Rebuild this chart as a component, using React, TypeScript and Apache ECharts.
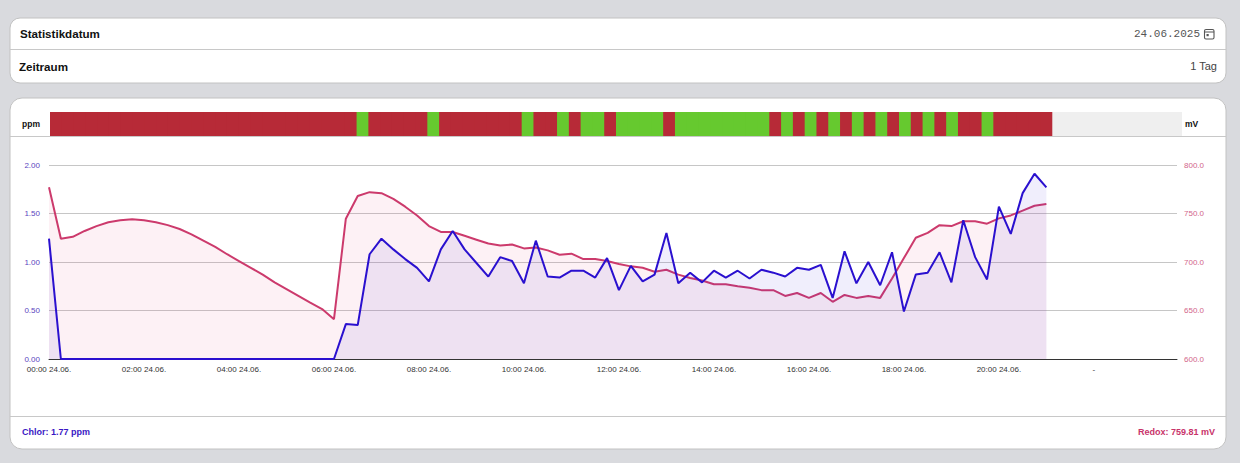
import React, { useEffect, useRef } from "react";
import * as echarts from "echarts";

// 15-minute slots of the day (category axis), only 00:00 .. 21:00 carry data
const slotCount = 96;
const categories: string[] = [];
for (let i = 0; i < slotCount; i++) {
  const h = Math.floor(i / 4);
  const m = (i % 4) * 15;
  categories.push(`${String(h).padStart(2, "0")}:${String(m).padStart(2, "0")}`);
}
const dateSuffix = "24.06.";

// Chlor in ppm (left axis)
const chlor = [
  1.24, 0, 0, 0, 0, 0, 0, 0, 0, 0, 0, 0, 0, 0, 0, 0, 0, 0, 0, 0, 0, 0, 0, 0, 0,
  0.36, 0.35, 1.08, 1.24, 1.13, 1.03, 0.94, 0.8, 1.13, 1.32, 1.13, 0.99, 0.85, 1.05, 1.01,
  0.78, 1.22, 0.85, 0.84, 0.91, 0.91, 0.84, 1.04, 0.71, 0.96, 0.8, 0.87, 1.3, 0.78, 0.89,
  0.79, 0.91, 0.84, 0.91, 0.83, 0.92, 0.89, 0.85, 0.94, 0.92, 0.97, 0.63, 1.11, 0.78, 1.0,
  0.76, 1.1, 0.49, 0.87, 0.89, 1.1, 0.79, 1.43, 1.05, 0.82, 1.57, 1.29, 1.71, 1.91, 1.77,
];

// Redox in mV (right axis)
const redox = [
  777, 724, 726, 732, 737, 741, 743, 744, 743, 741, 738, 734, 728.5, 722, 715.5, 708, 701,
  694, 687, 679, 672, 665, 658, 651.5, 641, 744.6, 768, 772, 771, 765, 757, 748, 737, 731,
  731, 727, 723, 719, 717, 718, 714, 715, 712, 707.5, 708.6, 703, 703, 701, 698, 695.5, 694,
  690, 692, 687, 683.5, 681, 677, 677, 675, 673.5, 671, 671, 665, 668, 663, 668, 659, 666,
  663, 665, 663, 683, 704, 725, 730, 738, 737, 742, 742, 739.5, 745, 748, 753, 758, 759.81,
];

// status per slot: 1 = ok (green), 0 = not ok (red)
const status = [
  0, 0, 0, 0, 0, 0, 0, 0, 0, 0, 0, 0, 0, 0, 0, 0, 0, 0, 0, 0, 0, 0, 0, 0, 0, 0,
  1, 0, 0, 0, 0, 0, 1, 0, 0, 0, 0, 0, 0, 0, 1, 0, 0, 1, 0, 1, 1, 0, 1, 1, 1, 1, 0,
  1, 1, 1, 1, 1, 1, 1, 1, 0, 1, 0, 1, 0, 1, 0, 1, 0, 1, 0, 1, 0, 1, 0, 1, 0, 0, 1,
  0, 0, 0, 0, 0,
];

const leftTicks = { min: 0, max: 2, interval: 0.5 };
const rightTicks = { min: 600, max: 800, interval: 50 };

const statDate = "24.06.2025";
const period = "1 Tag";
const chlorNow = "1.77";
const redoxNow = "759.81";

const BLUE = "#2A10CF";
const PINK = "#CC3A6C";
const RED = "#B72A37";
const GREEN = "#66C92F";
const FONT = "'Liberation Sans', Arial, sans-serif";

export default function App() {
  const ref = useRef<HTMLDivElement>(null);

  useEffect(() => {
    if (!ref.current) return;
    const chart = echarts.init(ref.current, undefined, { renderer: "svg" });

    const cardStroke = "#C2C2C2";
    const lastSlot = status.length - 1;
    const option: any = {
      animation: false,
      backgroundColor: "#D9DADE",
      textStyle: { fontFamily: FONT },
      grid: [
        { left: 50, top: 112, width: 1132, height: 24, show: true, backgroundColor: "#EFEFEF", borderWidth: 0, z: 1 },
        { left: 49, top: 165, width: 1128, height: 194 },
      ],
      xAxis: [
        { type: "category", gridIndex: 0, data: categories, show: false, boundaryGap: true },
        {
          type: "category",
          gridIndex: 1,
          data: categories,
          boundaryGap: false,
          axisLine: { lineStyle: { color: "#333", width: 1 } },
          axisTick: { show: false },
          axisLabel: {
            interval: 7,
            fontSize: 8,
            color: "#333",
            margin: 6,
            fontFamily: FONT,
            formatter: (v: string, idx: number) => (idx < chlor.length ? `${v} ${dateSuffix}` : "-"),
          },
        },
      ],
      yAxis: [
        { type: "value", gridIndex: 0, min: 0, max: 1, show: false },
        {
          type: "value",
          gridIndex: 1,
          position: "left",
          ...leftTicks,
          axisLine: { show: false },
          axisTick: { show: false },
          axisLabel: { fontSize: 8, color: "#5A44C0", margin: 9, fontFamily: FONT, formatter: (v: number) => v.toFixed(2) },
          splitLine: { lineStyle: { color: "#C6C6C6" } },
        },
        {
          type: "value",
          gridIndex: 1,
          position: "right",
          ...rightTicks,
          axisLine: { show: false },
          axisTick: { show: false },
          axisLabel: { fontSize: 8, color: "#D2658A", margin: 7, fontFamily: FONT, formatter: (v: number) => v.toFixed(1) },
          splitLine: { show: false },
        },
      ],
      series: [
        {
          type: "custom",
          xAxisIndex: 0,
          yAxisIndex: 0,
          silent: true,
          data: status.map((s, i) => [i, s]),
          encode: { x: 0, y: 1 },
          renderItem: (params: any, api: any) => {
            const idx = api.value(0);
            const ok = api.value(1);
            const center = api.coord([idx, 1]);
            const base = api.coord([idx, 0]);
            const size = api.size([1, 1]);
            const extra = idx === lastSlot ? 0 : 0.9;
            return {
              type: "rect",
              shape: {
                x: center[0] - size[0] / 2,
                y: center[1],
                width: size[0] + extra,
                height: base[1] - center[1],
              },
              style: { fill: ok ? GREEN : RED },
            };
          },
        },
        {
          name: "Redox",
          type: "line",
          xAxisIndex: 1,
          yAxisIndex: 2,
          data: redox,
          showSymbol: false,
          lineStyle: { color: PINK, width: 2 },
          itemStyle: { color: PINK },
          areaStyle: { color: "rgba(225,60,120,0.10)" },
          z: 2,
        },
        {
          name: "Chlor",
          type: "line",
          xAxisIndex: 1,
          yAxisIndex: 1,
          data: chlor,
          showSymbol: false,
          lineStyle: { color: BLUE, width: 2 },
          itemStyle: { color: BLUE },
          areaStyle: { color: "rgba(70,40,215,0.11)" },
          z: 3,
        },
      ],
      graphic: [
        // top card
        { type: "rect", z: -10, shape: { x: 10, y: 18, width: 1216, height: 65, r: 10 }, style: { fill: "#fff", stroke: cardStroke, lineWidth: 1 } },
        { type: "line", z: -9, shape: { x1: 10, y1: 49.5, x2: 1226, y2: 49.5 }, style: { stroke: "#C8C8C8", lineWidth: 1 } },
        { type: "text", z: 10, x: 20, y: 33, style: { text: "Statistikdatum", fontSize: 11.6, fontWeight: "bold", fill: "#111", fontFamily: FONT, verticalAlign: "middle" } },
        { type: "text", z: 10, x: 19, y: 66, style: { text: "Zeitraum", fontSize: 11.6, fontWeight: "bold", fill: "#111", fontFamily: FONT, verticalAlign: "middle" } },
        { type: "text", z: 10, x: 1200, y: 34, style: { text: statDate, fontSize: 11, fill: "#555", fontFamily: "'Liberation Mono', 'DejaVu Sans Mono', monospace", align: "right", verticalAlign: "middle" } },
        { type: "rect", z: 10, shape: { x: 1204.5, y: 29.5, width: 9.5, height: 9.5, r: 1.5 }, style: { fill: "none", stroke: "#555", lineWidth: 1.1 } },
        { type: "line", z: 10, shape: { x1: 1204.5, y1: 32, x2: 1214, y2: 32 }, style: { stroke: "#555", lineWidth: 1 } },
        { type: "rect", z: 10, shape: { x: 1206.5, y: 34, width: 2.2, height: 2.2 }, style: { fill: "#555" } },
        { type: "text", z: 10, x: 1217, y: 66, style: { text: period, fontSize: 11, fill: "#444", fontFamily: FONT, align: "right", verticalAlign: "middle" } },
        // chart card
        { type: "rect", z: -10, shape: { x: 10, y: 98, width: 1216, height: 351, r: 12 }, style: { fill: "#fff", stroke: cardStroke, lineWidth: 1 } },
        { type: "line", z: -9, shape: { x1: 10, y1: 136.5, x2: 1226, y2: 136.5 }, style: { stroke: "#C8C8C8", lineWidth: 1 } },
        { type: "line", z: -9, shape: { x1: 10, y1: 416.5, x2: 1226, y2: 416.5 }, style: { stroke: "#C8C8C8", lineWidth: 1 } },
        { type: "text", z: 10, x: 22, y: 124, style: { text: "ppm", fontSize: 8.5, fontWeight: "bold", fill: "#111", fontFamily: FONT, verticalAlign: "middle" } },
        { type: "text", z: 10, x: 1185, y: 124, style: { text: "mV", fontSize: 8.5, fontWeight: "bold", fill: "#111", fontFamily: FONT, verticalAlign: "middle" } },
        { type: "text", z: 10, x: 22, y: 432, style: { text: `Chlor: ${chlorNow} ppm`, fontSize: 9, fontWeight: "bold", fill: "#3A17C4", fontFamily: FONT, verticalAlign: "middle" } },
        { type: "text", z: 10, x: 1215, y: 432, style: { text: `Redox: ${redoxNow} mV`, fontSize: 9, fontWeight: "bold", fill: "#C8336A", fontFamily: FONT, align: "right", verticalAlign: "middle" } },
      ],
    };

    chart.setOption(option);
    return () => chart.dispose();
  }, []);

  return (
    <div
      ref={ref}
      style={{ position: "absolute", left: 0, top: 0, width: 1240, height: 463 }}
    />
  );
}
